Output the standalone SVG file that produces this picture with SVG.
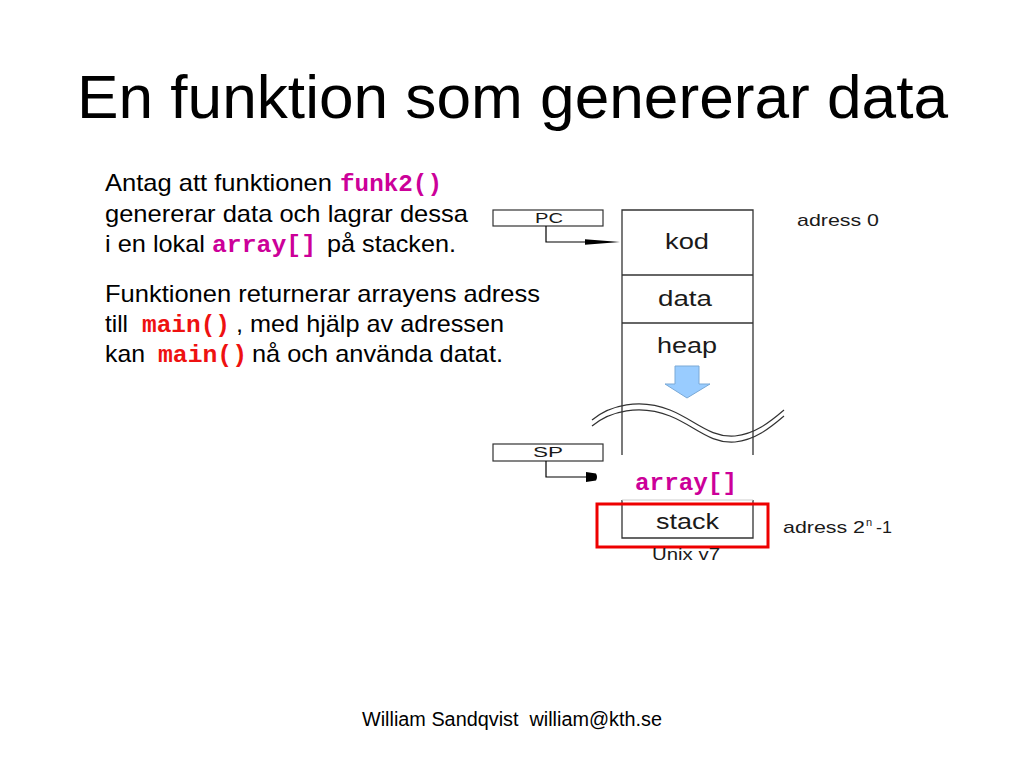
<svg xmlns="http://www.w3.org/2000/svg" width="1024" height="768" viewBox="0 0 1024 768">
<defs>
<style>
.t{font-family:"Liberation Sans",Arial,sans-serif;fill:#000}
.m{font-family:"Liberation Mono","Courier New",monospace;font-weight:bold}
.mg{fill:#CC0099}
.rd{fill:#EE1111}
.d{font-family:"Liberation Sans",Arial,sans-serif;fill:#1a1a1a}
.ln{stroke:#333;stroke-width:1.3;fill:none}
</style>
</defs>
<rect width="1024" height="768" fill="#fff"/>
<text class="t" x="77" y="118" font-size="62" textLength="871" lengthAdjust="spacingAndGlyphs">En funktion som genererar data</text>

<g id="text-left" font-size="24">
<text class="t" x="105" y="191" textLength="227" lengthAdjust="spacingAndGlyphs">Antag att funktionen</text>
<text class="m mg" x="340" y="191" textLength="102" lengthAdjust="spacingAndGlyphs">funk2()</text>
<text class="t" x="105" y="222" textLength="363" lengthAdjust="spacingAndGlyphs">genererar data och lagrar dessa</text>
<text class="t" x="105" y="252" textLength="100" lengthAdjust="spacingAndGlyphs">i en lokal</text>
<text class="m mg" x="212" y="252" textLength="104" lengthAdjust="spacingAndGlyphs">array[]</text>
<text class="t" x="327" y="252" textLength="129" lengthAdjust="spacingAndGlyphs">på stacken.</text>
<text class="t" x="105" y="302" textLength="435" lengthAdjust="spacingAndGlyphs">Funktionen returnerar arrayens adress</text>
<text class="t" x="105" y="332" textLength="23" lengthAdjust="spacingAndGlyphs">till</text>
<text class="m rd" x="142" y="332" textLength="88" lengthAdjust="spacingAndGlyphs">main()</text>
<text class="t" x="236" y="332" textLength="268" lengthAdjust="spacingAndGlyphs">, med hjälp av adressen</text>
<text class="t" x="105" y="362" textLength="40" lengthAdjust="spacingAndGlyphs">kan</text>
<text class="m rd" x="158" y="362" textLength="89" lengthAdjust="spacingAndGlyphs">main()</text>
<text class="t" x="252" y="362" textLength="251" lengthAdjust="spacingAndGlyphs">nå och använda datat.</text>
</g>

<g id="memory">
<path class="ln" d="M622,455 V210 H753 V455"/>
<line class="ln" x1="622" y1="275" x2="753" y2="275"/>
<line class="ln" x1="622" y1="323" x2="753" y2="323"/>
<text class="d" x="665" y="249" font-size="22" textLength="44" lengthAdjust="spacingAndGlyphs">kod</text>
<text class="d" x="658" y="306" font-size="22" textLength="54" lengthAdjust="spacingAndGlyphs">data</text>
<text class="d" x="657" y="353" font-size="22" textLength="60" lengthAdjust="spacingAndGlyphs">heap</text>
<path d="M675,366 H699 V384 H710 L687,398 L665,384 H675 Z" fill="#99CCFF" stroke="#7aa9d6" stroke-width="1"/>
</g>

<g id="wave" fill="none" stroke="#333" stroke-width="1.2">
<path d="M592,420 C610,405 640,398 670,410 C695,420 710,438 735,436 C755,434 770,422 784,410"/>
<path d="M592,426 C610,411 640,404 670,416 C695,426 710,444 735,442 C755,440 770,428 784,416"/>
</g>

<g id="stack">
<path class="ln" d="M622,500 V538 H753 V500"/>
<line x1="622" y1="500" x2="753" y2="500" stroke="#ccc" stroke-width="1"/>
<text class="d" x="656" y="529" font-size="22" textLength="63" lengthAdjust="spacingAndGlyphs">stack</text>
<rect x="597" y="504" width="171" height="43" fill="none" stroke="#EE0000" stroke-width="3"/>
<text class="m mg" x="635" y="490" font-size="24" textLength="102" lengthAdjust="spacingAndGlyphs">array[]</text>
</g>

<g id="pc">
<rect x="493" y="210" width="110" height="16" fill="#fff" stroke="#333" stroke-width="1.2"/>
<text class="d" x="535" y="223" font-size="14" textLength="28" lengthAdjust="spacingAndGlyphs" fill="#444">PC</text>
</g>
<g id="sp">
<rect x="493" y="444" width="110" height="17" fill="#fff" stroke="#333" stroke-width="1.2"/>
<text class="d" x="533" y="457" font-size="14" textLength="30" lengthAdjust="spacingAndGlyphs" fill="#444">SP</text>
</g>

<g id="connectors" fill="none" stroke="#000" stroke-width="1.2">
<path d="M546,226 V242 H586"/>
<path d="M585,239.3 L620,242 L585,244.7 Z" fill="#000" stroke="none"/>
<path d="M546,461 V477 H587"/>
<path d="M586,472 L596,473.5 Q598,477 596,480.5 L586,482 Z" fill="#000" stroke="none"/>
</g>

<g id="labels">
<text class="d" x="797" y="226" font-size="17" textLength="82" lengthAdjust="spacingAndGlyphs">adress 0</text>
<text class="d" font-size="17"><tspan x="783" y="533" textLength="82" lengthAdjust="spacingAndGlyphs">adress 2</tspan><tspan x="866" y="526" font-size="11">n</tspan><tspan x="876" y="533" textLength="16" lengthAdjust="spacingAndGlyphs">-1</tspan></text>
<text class="d" x="652" y="560" font-size="17" textLength="68" lengthAdjust="spacingAndGlyphs" fill="#333">Unix v7</text>
</g>

<text class="t" x="362" y="726" font-size="20" textLength="300" lengthAdjust="spacingAndGlyphs" xml:space="preserve">William Sandqvist  william@kth.se</text>
</svg>
